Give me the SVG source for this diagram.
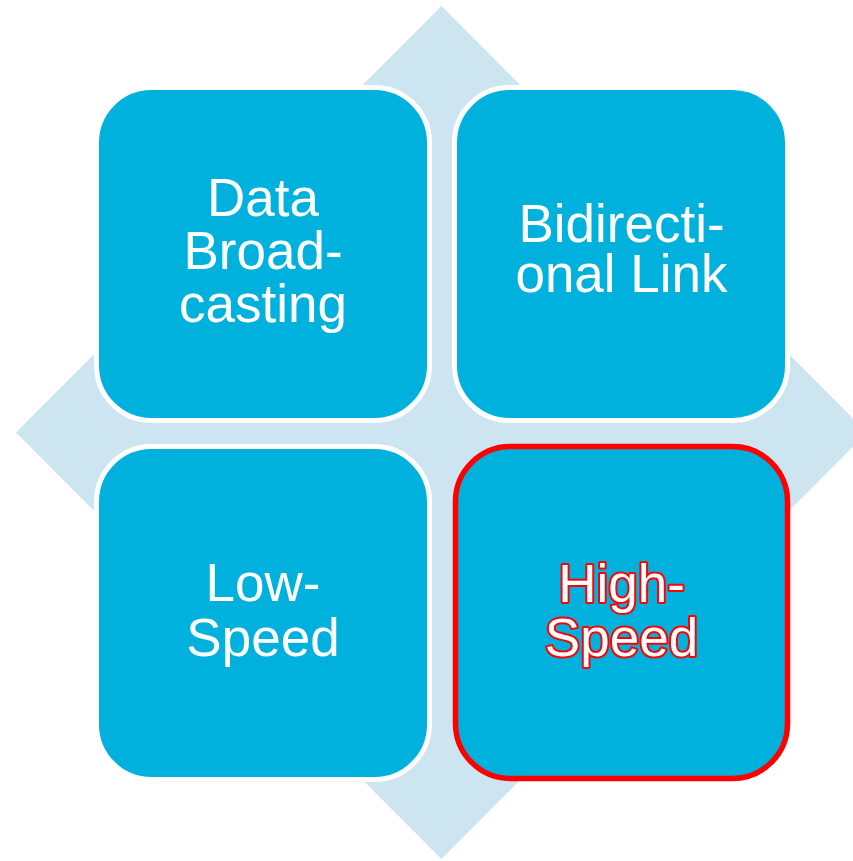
<svg xmlns="http://www.w3.org/2000/svg" width="853" height="861" viewBox="0 0 853 861">
  <style>
    .box { fill: #00B1DE; stroke: #FFFFFF; stroke-width: 5; }
    .box.hl { stroke: #FF0000; stroke-width: 5.5; }
    .label { font-family: "Liberation Sans", Arial, sans-serif; font-size: 53px; fill: #FFFFFF; text-anchor: middle; }
    .label.hl { stroke: #FF0000; stroke-width: 4; stroke-linejoin: round; paint-order: stroke fill; }
  </style>

  <rect width="853" height="861" fill="#FFFFFF"/>

  <!-- background diamond -->
  <polygon id="backdrop" points="441.5,6 867,432.5 441.5,859 16,432.5" fill="#CDE4F1"/>

  <g id="connectors"></g>

  <g id="node-data-broadcasting">
    <rect class="box" x="96.5" y="87.5" width="333" height="333" rx="55" ry="55"/>
    <text class="label" x="263" y="216">Data</text>
    <text class="label" x="263" y="269">Broad-</text>
    <text class="label" x="263" y="322">casting</text>
  </g>

  <g id="node-bidirectional-link">
    <rect class="box" x="454.5" y="87.5" width="333" height="333" rx="55" ry="55"/>
    <text class="label" x="621.5" y="241.5">Bidirecti-</text>
    <text class="label" x="621.5" y="292">onal Link</text>
  </g>

  <g id="node-low-speed">
    <rect class="box" x="96.5" y="446.5" width="333" height="333" rx="55" ry="55"/>
    <text class="label" x="263" y="600.5">Low-</text>
    <text class="label" x="263" y="655.5">Speed</text>
  </g>

  <g id="node-high-speed">
    <rect class="box hl" x="455.5" y="446.5" width="332" height="332" rx="55" ry="55"/>
    <text class="label hl" x="621.5" y="601.5">High-</text>
    <text class="label hl" x="621.5" y="656">Speed</text>
  </g>
</svg>
